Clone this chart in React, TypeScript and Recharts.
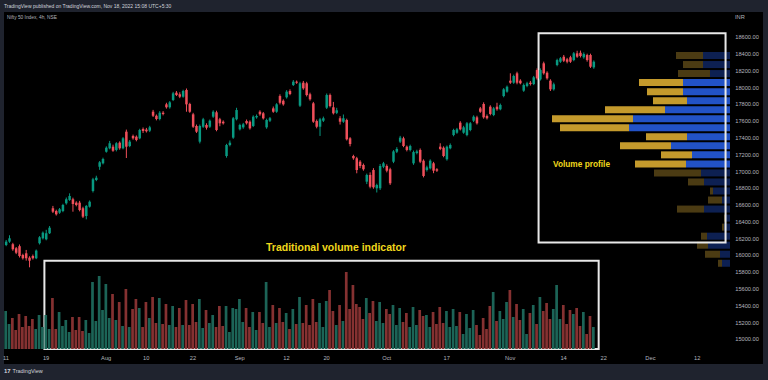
import React from 'react';
import { ComposedChart, BarChart, Bar, XAxis, YAxis, Cell, ReferenceArea } from 'recharts';

// Nifty 50, 4h candles, Jul 11 -> Nov 18 2022
const opens = [16124,16164,16133,16085,16110,16005,16025,15973,15993,15966,16145,16204,16192,16264,16562,16529,16509,16529,16621,16661,16669,16629,16629,16562,16470,16581,16768,16899,17057,17098,17236,17277,17296,17257,17344,17277,17475,17304,17424,17415,17396,17507,17500,17487,17713,17665,17626,17701,17801,17766,17853,17940,17921,17892,17972,17805,17682,17543,17356,17534,17555,17534,17654,17706,17623,17594,17185,17316,17404,17623,17503,17527,17602,17594,17543,17646,17713,17694,17527,17606,17753,17713,17900,17844,17885,17960,18031,18071,17785,18059,18052,17921,17813,17602,17534,17606,17761,17912,17766,17700,17635,17594,17614,17396,17185,17158,17117,17078,16879,16959,17018,16800,16800,17057,17066,17027,17117,17236,17356,17396,17296,17257,17098,17221,17257,17129,17018,17038,17098,17027,17296,17284,17146,17277,17435,17463,17582,17463,17435,17495,17606,17646,17753,17805,17662,17773,17674,17773,17742,17900,17952,18083,18059,18171,18083,17964,18020,18059,18043,18210,18099,18290,18178,18083,17980,18270,18309,18369,18338,18362,18329,18409,18416,18362,18389,18389,18242];
const highs = [16184,16240,16150,16100,16130,16020,16065,15990,16010,16070,16230,16285,16305,16350,16590,16545,16565,16615,16690,16740,16688,16645,16650,16580,16600,16655,16925,16950,17125,17165,17300,17365,17320,17350,17360,17410,17500,17375,17440,17430,17510,17525,17520,17545,17735,17680,17720,17720,17820,17840,17950,17960,17945,17975,17990,17820,17700,17560,17560,17640,17575,17620,17730,17725,17640,17610,17330,17370,17650,17760,17570,17580,17620,17610,17670,17680,17730,17710,17630,17650,17775,17815,17920,17860,17970,17980,18090,18085,18070,18080,18070,17940,17830,17620,17640,17655,17930,17930,17830,17760,17660,17680,17630,17410,17200,17175,17135,17095,16975,16990,17040,16855,17090,17115,17085,17045,17255,17290,17425,17415,17310,17320,17250,17260,17275,17145,17070,17145,17115,17040,17337,17300,17310,17335,17510,17520,17600,17545,17590,17590,17670,17665,17770,17825,17680,17790,17770,17820,17810,17995,18025,18171,18155,18190,18100,18050,18070,18080,18140,18230,18230,18310,18195,18100,18060,18345,18365,18390,18355,18380,18425,18440,18442,18420,18405,18405,18325];
const lows = [16110,16150,16055,16015,15975,15950,15938,15858,15950,15955,16130,16190,16180,16255,16505,16475,16495,16515,16605,16650,16521,16585,16525,16445,16430,16570,16750,16885,17020,17085,17225,17265,17235,17240,17260,17265,17161,17290,17380,17360,17385,17460,17465,17470,17650,17610,17610,17670,17750,17750,17840,17900,17875,17880,17713,17700,17520,17460,17335,17520,17500,17520,17640,17480,17540,17560,17165,17300,17390,17610,17490,17510,17560,17500,17530,17630,17665,17620,17510,17590,17700,17700,17800,17785,17870,17910,18020,18045,17770,17975,17895,17845,17580,17515,17424,17590,17745,17765,17680,17685,17560,17580,17370,17300,17140,16979,17040,17010,16850,16800,16795,16750,16780,17040,16990,16840,17100,17220,17340,17290,17240,17240,17080,17205,17100,16930,17000,17025,16980,16995,17255,17170,17130,17265,17420,17450,17490,17450,17420,17480,17590,17560,17700,17630,17620,17670,17660,17725,17730,17885,17940,18045,18045,18040,18040,17950,18005,18025,18030,18095,18085,18155,18095,17960,17965,18255,18295,18305,18290,18295,18315,18355,18360,18345,18310,18235,18225];
const closes = [16164,16204,16073,16032,15993,15966,15966,15937,15966,16057,16216,16271,16264,16330,16521,16490,16550,16601,16669,16708,16613,16601,16541,16462,16590,16640,16907,16926,17110,17149,17284,17337,17248,17337,17277,17396,17296,17356,17396,17376,17495,17483,17480,17527,17665,17626,17701,17686,17766,17825,17932,17912,17892,17960,17801,17713,17534,17475,17543,17623,17522,17606,17713,17495,17575,17575,17316,17344,17635,17733,17555,17563,17575,17515,17654,17662,17682,17634,17614,17635,17713,17801,17820,17801,17952,17924,18071,18059,18052,17992,17912,17861,17594,17534,17623,17635,17912,17781,17694,17730,17594,17635,17384,17328,17158,17018,17066,17027,16959,16819,16812,16839,17066,17098,17010,16860,17240,17269,17404,17304,17257,17304,17232,17240,17117,16947,17050,17129,17010,17010,17269,17185,17296,17316,17495,17503,17503,17527,17575,17575,17654,17575,17713,17646,17635,17686,17753,17742,17793,17980,18011,18059,18139,18059,18052,18031,18052,18043,18123,18111,18210,18171,18111,17980,18040,18329,18350,18321,18309,18309,18409,18369,18377,18401,18329,18250,18309];
const volumes = [38,25,31,19,35,22,33,23,30,20,34,22,34,20,51,20,37,23,29,17,32,19,32,18,29,16,67,28,73,39,65,31,55,29,47,23,60,22,40,50,41,22,47,31,52,26,51,25,45,24,43,22,41,24,49,24,45,27,50,21,39,26,34,22,43,23,43,17,41,40,50,27,41,22,37,19,37,26,67,22,44,26,41,27,36,20,40,25,52,26,44,24,50,27,46,22,48,59,38,24,44,28,77,40,64,45,42,30,51,36,48,28,47,26,40,35,44,24,41,27,36,22,42,24,39,33,34,22,37,25,42,26,38,22,40,23,37,15,35,21,39,24,14,31,20,43,57,28,38,30,47,59,32,45,29,40,15,36,44,25,52,38,46,30,40,64,30,44,25,39,35,41,23,37,15,33,22];

const tickIdx = [0, 12, 30, 42, 56, 70, 84, 96, 114, 132, 151, 167, 179, 193, 207];
const tickText = ['11', '19', 'Aug', '10', '22', 'Sep', '12', '20', 'Oct', '17', 'Nov', '14', '22', 'Dec', '12'];
const priceTicks = [15000, 15200, 15400, 15600, 15800, 16000, 16200, 16400, 16600, 16800, 17000, 17200, 17400, 17600, 17800, 18000, 18200, 18400, 18600];

// volume profile, 24 rows from 18442 down to 15858
const profileUp = [27, 27, 20, 47, 47, 43, 65, 97, 101, 43, 59, 38, 44, 29, 26, 17, 8, 26, 4, 6, 23, 22, 10, 8];
const profileDown = [27, 20, 32, 44, 36, 34, 60, 81, 69, 41, 51, 31, 51, 47, 16, 3, 14, 27, 2, 2, 6, 11, 15, 4];
const VA_FIRST = 3;
const VA_LAST = 12;

const SLOTS = 218;
const FONT = "'Liberation Sans', Arial, sans-serif";
const UP = '#089981';
const DOWN = '#ef4f5a';
const VOL_UP = '#1c6457';
const VOL_DOWN = '#853131';
const AXIS_TEXT = '#b2b5be';
const NOTE = '#f0d81c';

const data = Array.from({ length: SLOTS }, (_, i) => ({
  i,
  open: opens[i] ?? null,
  high: highs[i] ?? null,
  low: lows[i] ?? null,
  close: closes[i] ?? null,
  volume: volumes[i] ?? null,
}));

const profile = profileUp.map((up, k) => ({ row: k, up, down: profileDown[k] }));

const Candle = (props: any) => {
  const { x, y, width, height, payload } = props;
  if (!payload || payload.open == null) return null;
  const { open, close, high, low } = payload;
  const top = Math.min(y, y + height);
  const h = Math.abs(height);
  const yOf = (p: number) => top + ((high - p) / (high - low)) * h;
  const color = close >= open ? UP : DOWN;
  const cx = x + width / 2;
  const b1 = yOf(Math.max(open, close));
  const b2 = yOf(Math.min(open, close));
  return (
    <g>
      <line x1={cx} x2={cx} y1={top} y2={top + h} stroke={color} strokeWidth={1} />
      <rect x={cx - 1.25} y={b1} width={2.5} height={Math.max(1, b2 - b1)} fill={color} />
    </g>
  );
};

export default function App() {
  return (
    <div style={{ position: 'absolute', left: 0, top: 0, width: 768, height: 380, background: '#1f232e', fontFamily: FONT, overflow: 'hidden' }}>
      <div style={{ position: 'absolute', left: 4, top: 12, width: 759, height: 352, background: '#000' }} />

      <div style={{ position: 'absolute', left: 530, top: 50.5, width: 200, height: 216.8 }}>
        <BarChart width={200} height={216.8} data={profile} layout="vertical" margin={{ top: 0, right: 0, bottom: 0, left: 0 }} barCategoryGap={1}>
          <XAxis type="number" domain={[0, 200]} reversed hide />
          <YAxis type="category" dataKey="row" hide />
          <Bar dataKey="up" stackId="vp" isAnimationActive={false}>
            {profile.map((r) => (
              <Cell key={r.row} fill={r.row >= VA_FIRST && r.row <= VA_LAST ? '#2252c6' : '#0d2052'} />
            ))}
          </Bar>
          <Bar dataKey="down" stackId="vp" isAnimationActive={false}>
            {profile.map((r) => (
              <Cell key={r.row} fill={r.row >= VA_FIRST && r.row <= VA_LAST ? '#c49a2c' : '#4b3b13'} />
            ))}
          </Bar>
        </BarChart>
      </div>

      <div style={{ position: 'absolute', left: 0, top: 12, width: 763, height: 352 }}>
        <ComposedChart width={763} height={352} data={data} margin={{ top: 0, right: 0, bottom: 0, left: 4.33 }}>
          <XAxis
            xAxisId="c"
            dataKey="i"
            type="category"
            ticks={tickIdx}
            interval={0}
            tickFormatter={(v) => tickText[tickIdx.indexOf(Number(v))] ?? ''}
            tick={{ fill: AXIS_TEXT, fontSize: 5.7, fontFamily: FONT }}
            axisLine={false}
            tickLine={false}
            tickSize={5}
            tickMargin={2}
            height={15}
          />
          <XAxis xAxisId="v" dataKey="i" type="category" hide />
          <YAxis
            yAxisId="p"
            orientation="right"
            domain={[14884, 18902]}
            allowDataOverflow
            ticks={priceTicks}
            interval={0}
            tickFormatter={(v) => Number(v).toFixed(2)}
            tick={{ fill: AXIS_TEXT, fontSize: 5.7, fontFamily: FONT }}
            axisLine={false}
            tickLine={false}
            tickSize={1}
            tickMargin={2}
            width={30.77}
          />
          <YAxis yAxisId="vol" domain={[0, 337]} hide />
          <Bar xAxisId="v" yAxisId="vol" dataKey="volume" barSize={2.7} isAnimationActive={false}>
            {data.map((d) => (
              <Cell key={d.i} fill={d.close != null && d.close >= d.open ? VOL_UP : VOL_DOWN} />
            ))}
          </Bar>
          <Bar
            xAxisId="c"
            yAxisId="p"
            dataKey={(d: any) => (d.high == null ? null : [d.low, d.high])}
            shape={Candle}
            isAnimationActive={false}
          />
          <ReferenceArea xAxisId="c" yAxisId="p" x1={12} x2={177} y1={14884} y2={15936} fill="none" fillOpacity={0} stroke="#e8e8e8" strokeWidth={2} ifOverflow="visible" />
          <ReferenceArea xAxisId="c" yAxisId="p" x1={160} x2={215} y1={16154} y2={18648} fill="none" fillOpacity={0} stroke="#e8e8e8" strokeWidth={2} ifOverflow="visible" />
        </ComposedChart>
      </div>

      <svg width={768} height={380} style={{ position: 'absolute', left: 0, top: 0, pointerEvents: 'none' }}>
        <text x={4} y={6} dominantBaseline="central" fontSize={5} fill="#d1d4dc" fontFamily={FONT}>
          TradingView published on TradingView.com, Nov 18, 2022 15:08 UTC+5:30
        </text>
        <text x={7} y={17} dominantBaseline="central" fontSize={4.8} fill={AXIS_TEXT} fontFamily={FONT}>
          Nifty 50 Index, 4h, NSE
        </text>
        <text x={735} y={17} dominantBaseline="central" fontSize={5.7} fill={AXIS_TEXT} fontFamily={FONT}>
          INR
        </text>
        <text x={336} y={247} textAnchor="middle" dominantBaseline="central" fontSize={10.5} fontWeight="bold" fill={NOTE} fontFamily={FONT}>
          Traditional volume indicator
        </text>
        <text x={553} y={164} dominantBaseline="central" fontSize={8.3} fontWeight="bold" fill={NOTE} fontFamily={FONT}>
          Volume profile
        </text>
        <text x={4} y={371} dominantBaseline="central" fontSize={6} fontWeight="bold" fill="#d1d4dc" fontFamily={FONT}>
          17
        </text>
        <text x={12.5} y={371} dominantBaseline="central" fontSize={5.5} fill="#d1d4dc" fontFamily={FONT}>
          TradingView
        </text>
      </svg>
    </div>
  );
}
